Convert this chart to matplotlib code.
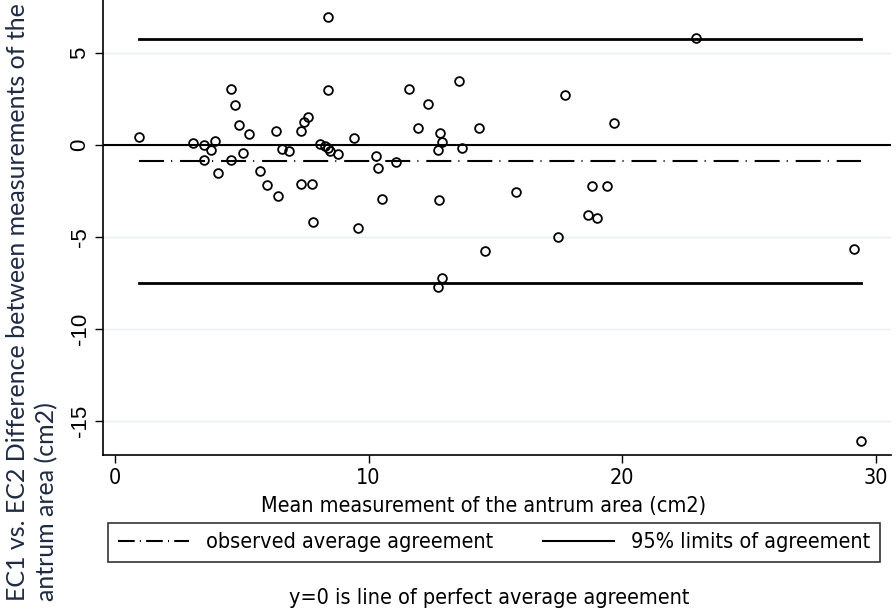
import numpy as np
import matplotlib
matplotlib.use("Agg")
import matplotlib.pyplot as plt
from matplotlib.lines import Line2D
from matplotlib.font_manager import FontProperties

mean_area = [0.93, 3.07, 3.50, 3.94, 3.77, 3.51, 4.05, 4.56, 4.72, 4.56,
             4.91, 5.05, 5.29, 5.72, 5.99, 6.35, 6.42, 6.60, 6.87, 7.32,
             7.44, 7.63, 7.34, 7.77, 7.82, 8.09, 8.29, 8.41, 8.47, 8.40,
             8.42, 8.80, 9.43, 9.60, 10.31, 10.38, 10.55, 11.10, 11.61, 11.94,
             12.35, 12.80, 12.88, 12.73, 12.76, 12.90, 12.73, 13.56, 13.68, 14.35,
             14.58, 15.81, 17.47, 17.74, 18.67, 18.80, 19.01, 19.39, 19.68, 22.93,
             29.13, 29.40]
diff_area = [0.45, 0.13, 0.00, 0.20, -0.27, -0.80, -1.52, 3.04, 2.16, -0.83,
             1.09, -0.42, 0.60, -1.40, -2.19, 0.78, -2.79, -0.23, -0.31, 0.76,
             1.27, 1.51, -2.12, -2.14, -4.17, 0.05, -0.05, -0.18, -0.31, 6.94,
             2.99, -0.49, 0.38, -4.51, -0.60, -1.23, -2.93, -0.94, 3.04, 0.92,
             2.23, 0.67, 0.15, -0.29, -2.99, -7.25, -7.70, 3.46, -0.16, 0.91,
             -5.78, -2.54, -5.02, 2.73, -3.82, -2.25, -3.99, -2.23, 1.18, 5.80,
             -5.67, -16.1]

mean_diff = -0.87
upper_loa = 5.78
lower_loa = -7.48

xticks = [0, 10, 20, 30]
yticks = [5, 0, -5, -10, -15]

narrow = FontProperties(family='DejaVu Sans', stretch='condensed', size=15.5)

fig = plt.figure(figsize=(8.96, 6.15), dpi=100)
ax = fig.add_axes([103/896, 1 - 455/615, (891-103)/896, 455/615])

x = np.array(mean_area)
y = np.array(diff_area)
x0, x1 = x.min(), x.max()

for t in yticks:
    ax.axhline(t, color='#e6f0f4', lw=1, zorder=0)

ax.axhline(0, color='black', lw=1.5, zorder=2)
ax.plot([x0, x1], [upper_loa, upper_loa], color='black', lw=2, zorder=2)
ax.plot([x0, x1], [lower_loa, lower_loa], color='black', lw=2, zorder=2)
ax.plot([x0, x1], [mean_diff, mean_diff], color='black', lw=1.5,
        linestyle=(0, (12, 3.4, 0.5, 3.8)), zorder=2)

ax.plot(x, y, 'o', mfc='none', mec='black', ms=6.3, mew=1.3, zorder=3)

ax.set_xlim(-0.47, 30.6)
ax.set_ylim(-16.85, 7.88)
ax.set_xticks(xticks)
ax.set_yticks(yticks)
ax.set_xticklabels([str(t) for t in xticks], fontproperties=narrow)
ax.set_yticklabels([str(t) for t in yticks], rotation=90, va='center',
                   family='Liberation Sans', fontsize=16)
ax.tick_params(length=6, width=1, color='black', pad=3)
for s in ['top', 'right']:
    ax.spines[s].set_visible(False)
for s in ['left', 'bottom']:
    ax.spines[s].set_linewidth(1.2)

fig.text(484/896, 1 - 506/615, 'Mean measurement of the antrum area (cm2)',
         ha='center', va='center', fontproperties=narrow)

fig.text(32/896, 1 - 601/615,
         'EC1 vs. EC2 Difference between measurements of the\nantrum area (cm2)',
         rotation=90, ha='center', va='bottom', multialignment='left',
         family='Lato', fontsize=18, color='#1f2a44',
         linespacing=1.3)

handles = [Line2D([], [], color='black', lw=1.5, linestyle=(0, (8, 2.5, 0.5, 2.5))),
           Line2D([], [], color='black', lw=1.5)]
leg = fig.legend(handles, ['observed average agreement', '95% limits of agreement'],
                 loc='lower left', ncol=2, mode='expand',
                 bbox_to_anchor=(108/896, 1 - 562/615, (880-108)/896, 40/615),
                 prop=narrow, frameon=True,
                 fancybox=False, handlelength=3.3, borderaxespad=0,
                 borderpad=0.45, columnspacing=1.5)
leg.get_frame().set_edgecolor('black')
leg.get_frame().set_linewidth(1.2)

fig.text(489/896, 1 - 598/615, 'y=0 is line of perfect average agreement',
         ha='center', va='center', fontproperties=narrow)

fig.savefig('out.png', dpi=100)
